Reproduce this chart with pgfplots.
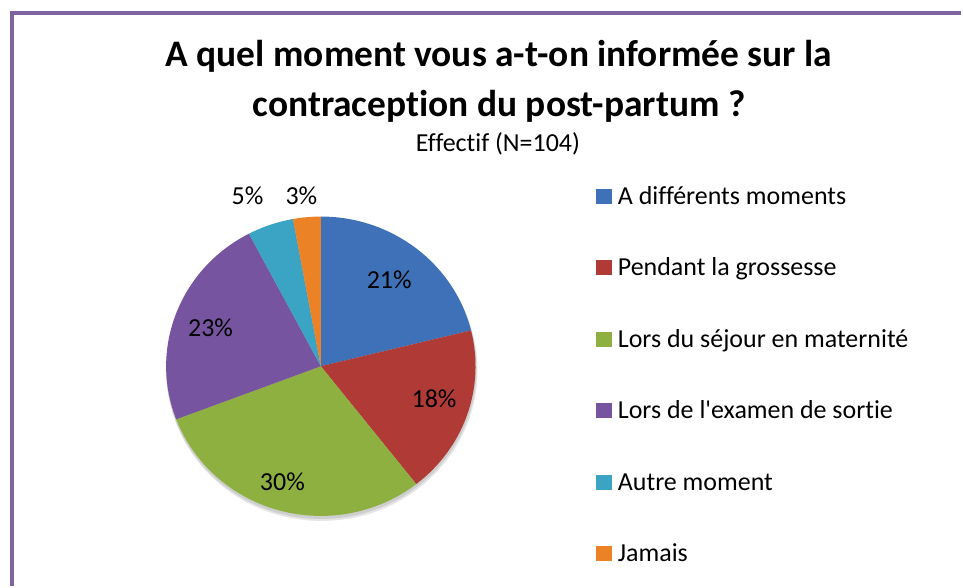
\documentclass[border=0pt]{standalone}
\usepackage{pgfplots}
\pgfplotsset{compat=1.18}
\usepackage{fontspec}
\setmainfont{Carlito}[Ligatures={CommonOff,TeXOff}]
\definecolor{cBlue}{HTML}{3E71B8}
\definecolor{cRed}{HTML}{B03A35}
\definecolor{cGreen}{HTML}{8DB040}
\definecolor{cPurple}{HTML}{7654A0}
\definecolor{cTeal}{HTML}{3BA3C3}
\definecolor{cOrange}{HTML}{EC8226}
\definecolor{cFrame}{HTML}{8064A2}
\begin{document}
\begin{tikzpicture}
% counts (N=104)
\def\nA{22}\def\nB{19}\def\nC{31}\def\nD{24}\def\nE{5}\def\nF{3}
\pgfmathsetmacro\aA{90}
\pgfmathsetmacro\aB{\aA-\nA*360/104}
\pgfmathsetmacro\aC{\aB-\nB*360/104}
\pgfmathsetmacro\aD{\aC-\nC*360/104}
\pgfmathsetmacro\aE{\aD-\nD*360/104}
\pgfmathsetmacro\aF{\aE-\nE*360/104}
\pgfmathsetmacro\aG{\aF-\nF*360/104}
\begin{axis}[
  x=1pt, y=1pt,
  xmin=0, xmax=963, ymin=0, ymax=587,
  axis lines=none, clip=false,
  ticks=none,
]
\path (axis cs:0,0) rectangle (axis cs:963,587);
% frame
\draw[cFrame, line width=4pt] (axis cs:12.5,0) -- (axis cs:12.5,573.5) -- (axis cs:963,573.5);
% title
\node[anchor=base, font=\bfseries\fontsize{37.5}{44}\selectfont] at (axis cs:500,520) {A quel moment vous a-t-on informée sur la};
\node[anchor=base, font=\bfseries\fontsize{37.5}{44}\selectfont] at (axis cs:500,470) {contraception du post-partum ?};
\node[anchor=base, font=\fontsize{26}{31}\selectfont] at (axis cs:499,435) {Effectif (N=104)};
% shadow
\fill[black, opacity=0.10] (axis cs:322.5,216) ellipse [x radius=156pt, y radius=151pt];
\fill[black, opacity=0.10] (axis cs:322,217.5) ellipse [x radius=155.5pt, y radius=150.5pt];
% pie
\def\cx{321.5}\def\cy{220}
\fill[cBlue]   (axis cs:\cx,\cy) -- ++(\aA:155pt and 150pt) arc[start angle=\aA, end angle=\aB, x radius=155pt, y radius=150pt] -- cycle;
\fill[cRed]    (axis cs:\cx,\cy) -- ++(\aB:155pt and 150pt) arc[start angle=\aB, end angle=\aC, x radius=155pt, y radius=150pt] -- cycle;
\fill[cGreen]  (axis cs:\cx,\cy) -- ++(\aC:155pt and 150pt) arc[start angle=\aC, end angle=\aD, x radius=155pt, y radius=150pt] -- cycle;
\fill[cPurple] (axis cs:\cx,\cy) -- ++(\aD:155pt and 150pt) arc[start angle=\aD, end angle=\aE, x radius=155pt, y radius=150pt] -- cycle;
\fill[cTeal]   (axis cs:\cx,\cy) -- ++(\aE:155pt and 150pt) arc[start angle=\aE, end angle=\aF, x radius=155pt, y radius=150pt] -- cycle;
\fill[cOrange] (axis cs:\cx,\cy) -- ++(\aF:155pt and 150pt) arc[start angle=\aF, end angle=\aG, x radius=155pt, y radius=150pt] -- cycle;
% data labels
\begin{scope}[every node/.style={font=\fontsize{26}{31}\selectfont, inner sep=0pt}]
\node at (axis cs:390,307) {21\%};
\node at (axis cs:435,187) {18\%};
\node at (axis cs:283,104) {30\%};
\node at (axis cs:211,259) {23\%};
\node at (axis cs:248,391) {5\%};
\node at (axis cs:302,391) {3\%};
\end{scope}
% legend
\begin{scope}[every node/.style={font=\fontsize{26}{31}\selectfont, inner sep=0pt, anchor=base west}]
\fill[cBlue]   (axis cs:597,382.5) rectangle (axis cs:613,397.5);
\node at (axis cs:619,382) {A différents moments};
\fill[cRed]    (axis cs:597,311) rectangle (axis cs:613,326);
\node at (axis cs:619,310.5) {Pendant la grossesse};
\fill[cGreen]  (axis cs:597,239.5) rectangle (axis cs:613,254.5);
\node at (axis cs:619,239) {Lors du séjour en maternité};
\fill[cPurple] (axis cs:597,168.5) rectangle (axis cs:613,183.5);
\node at (axis cs:619,168) {Lors de l'examen de sortie};
\fill[cTeal]   (axis cs:597,96) rectangle (axis cs:613,111);
\node at (axis cs:619,95.5) {Autre moment};
\fill[cOrange] (axis cs:597,24.5) rectangle (axis cs:613,39.5);
\node at (axis cs:619,24) {Jamais};
\end{scope}
\end{axis}
\end{tikzpicture}
\end{document}
